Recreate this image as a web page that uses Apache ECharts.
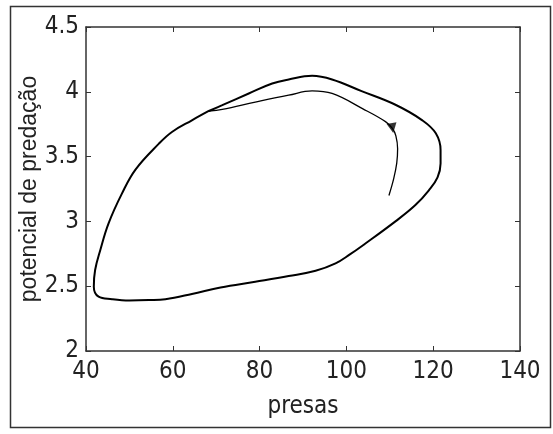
<!DOCTYPE html>
<html>
<head>
<meta charset="utf-8">
<script src="https://cdn.jsdelivr.net/npm/echarts@6/dist/echarts.min.js"></script>
<style>
  html, body { margin: 0; padding: 0; background: #fff; }
  #main { width: 553px; height: 434px; }
</style>
</head>
<body>
<div id="main"></div>
<script>
// eixos
var xTicks = [40, 60, 80, 100, 120, 140];
var yTicks = [2, 2.5, 3, 3.5, 4, 4.5];

// trajetoria inicial (do ponto de partida ate o ciclo)
var transX = [109.8, 110.9, 111.6, 111.8, 111.4, 110.6, 109.0, 103.7, 96.7, 92.1, 86.7, 79.0, 71.4, 68.3];
var transY = [3.20, 3.33, 3.45, 3.56, 3.66, 3.717, 3.77, 3.87, 3.987, 4.007, 3.974, 3.92, 3.864, 3.852];

// ciclo limite
var cycleX = [68.3, 64.4, 59.8, 56.8, 51.4, 48.3, 45.2, 43.3, 42.1, 41.8, 42.9, 46.0, 50.0, 54.5, 58.3, 64.4,
              71.0, 79.0, 86.7, 92.9, 97.5, 100.8, 104.0, 111.3, 115.9, 119.0, 121.0, 121.7, 121.7, 120.6,
              117.5, 111.3, 103.5, 96.7, 92.1, 86.7, 82.9, 77.5, 71.4, 68.3];
var cycleY = [3.852, 3.78, 3.69, 3.60, 3.40, 3.216, 2.985, 2.78, 2.625, 2.496, 2.419, 2.40, 2.39, 2.393, 2.40, 2.44,
              2.49, 2.534, 2.578, 2.619, 2.676, 2.745, 2.82, 3.0, 3.126, 3.24, 3.34, 3.447, 3.55, 3.68,
              3.78, 3.90, 4.005, 4.095, 4.123, 4.095, 4.064, 3.987, 3.897, 3.852];

// seta
var arrowX = [110.6];
var arrowY = [3.72];

function pairs(xs, ys) {
  var out = [];
  for (var i = 0; i < xs.length; i++) out.push([xs[i], ys[i]]);
  return out;
}

var narrow = '"Liberation Sans Narrow", "DejaVu Sans Condensed", "Liberation Sans", sans-serif';
var axisColor = '#333';

var myChart = echarts.init(document.getElementById('main'));
myChart.setOption({
  animation: false,
  backgroundColor: '#fff',
  grid: { left: 86, right: 33, top: 27, bottom: 83 },
  graphic: [{
    type: 'rect',
    shape: { x: 10.5, y: 6.5, width: 540, height: 421 },
    style: { fill: 'none', stroke: axisColor, lineWidth: 1.5 }
  }],
  xAxis: [{
    type: 'value',
    position: 'bottom',
    min: xTicks[0], max: xTicks[xTicks.length - 1], interval: 20,
    name: 'presas',
    nameLocation: 'middle',
    nameGap: 44,
    nameTextStyle: { fontFamily: narrow, fontSize: 24, color: '#222' },
    axisLine: { lineStyle: { color: axisColor, width: 1.5 } },
    axisTick: { inside: true, length: 5, lineStyle: { color: axisColor } },
    axisLabel: { fontFamily: narrow, fontSize: 24, color: '#222', margin: 9 },
    splitLine: { show: false }
  }, {
    type: 'value',
    position: 'top',
    min: xTicks[0], max: xTicks[xTicks.length - 1], interval: 20,
    axisLine: { lineStyle: { color: axisColor, width: 1.5 } },
    axisTick: { inside: true, length: 5, lineStyle: { color: axisColor } },
    axisLabel: { show: false },
    splitLine: { show: false }
  }],
  yAxis: [{
    type: 'value',
    position: 'left',
    min: yTicks[0], max: yTicks[yTicks.length - 1], interval: 0.5,
    name: 'potencial de predação',
    nameLocation: 'middle',
    nameGap: 45,
    nameMoveOverlap: false,
    nameTextStyle: { fontFamily: '"Liberation Sans", sans-serif', fontSize: 23, color: '#222' },
    axisLine: { lineStyle: { color: axisColor, width: 1.5 } },
    axisTick: { inside: true, length: 5, lineStyle: { color: axisColor } },
    axisLabel: { fontFamily: narrow, fontSize: 24, color: '#222', margin: 7 },
    splitLine: { show: false }
  }, {
    type: 'value',
    position: 'right',
    min: yTicks[0], max: yTicks[yTicks.length - 1], interval: 0.5,
    axisLine: { lineStyle: { color: axisColor, width: 1.5 } },
    axisTick: { inside: true, length: 5, lineStyle: { color: axisColor } },
    axisLabel: { show: false },
    splitLine: { show: false }
  }],
  series: [{
    type: 'line',
    data: pairs(transX, transY),
    showSymbol: false,
    smooth: 0.4,
    lineStyle: { color: '#000', width: 1.3 }
  }, {
    type: 'line',
    data: pairs(cycleX, cycleY),
    showSymbol: false,
    smooth: 0.4,
    lineStyle: { color: '#000', width: 2 }
  }, {
    type: 'scatter',
    data: pairs(arrowX, arrowY),
    symbol: 'triangle',
    symbolSize: 10,
    symbolRotate: 190,
    itemStyle: { color: '#000' }
  }]
});
</script>
</body>
</html>
